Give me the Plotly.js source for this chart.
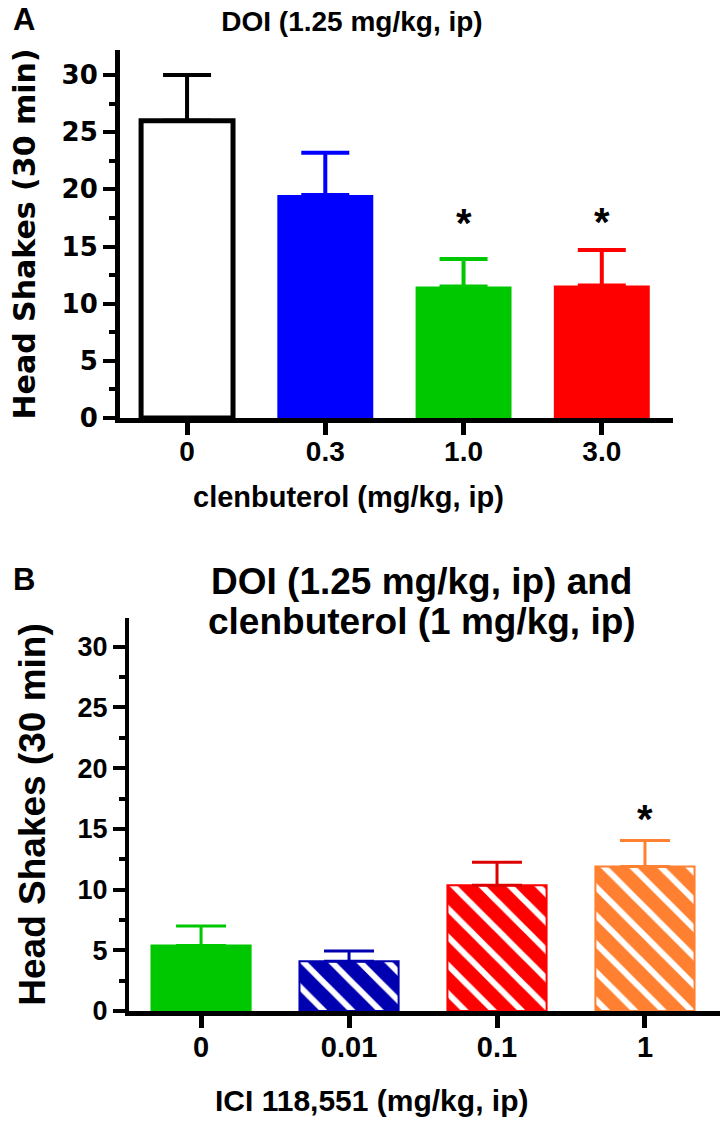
<!DOCTYPE html>
<html><head><meta charset="utf-8">
<script src="https://cdn.plot.ly/plotly-3.0.1.min.js"></script>
<style>html,body{margin:0;padding:0;background:#fff}</style>
</head><body><div id="chart" style="width:722px;height:1134px"></div>
<script>
// Panel A data
const catsA = ['0', '0.3', '1.0', '3.0'];
const meansA = [26.0, 19.5, 11.5, 11.6];
const semA = [4.0, 3.7, 2.4, 3.1];
const sigA = ['', '', '*', '*'];
const sigYA = [null, null, 17.05, 17.15];
const fillA = ['#FFFFFF', '#0000FF', '#00C800', '#FF0000'];
const edgeA = ['#000000', '#0000FF', '#00C800', '#FF0000'];

// Panel B data
const catsB = ['0', '0.01', '0.1', '1'];
const meansB = [5.4, 4.1, 10.35, 11.9];
const semB = [1.6, 0.85, 1.9, 2.15];
const sigB = ['', '', '', '*'];
const sigYB = [null, null, null, 15.85];
const fillB = ['#00C800', '#0000B0', '#FF0000', '#FF8030'];
const errB = ['#00C800', '#0000B0', '#DD0000', '#FF8030'];
const hatchB = ['', '\\', '\\', '\\'];

// Text
const titleA = 'DOI (1.25 mg/kg, ip)';
const titleB = ['DOI (1.25 mg/kg, ip) and', 'clenbuterol (1 mg/kg, ip)'];
const xTitleA = 'clenbuterol (mg/kg, ip)';
const xTitleB = 'ICI 118,551 (mg/kg, ip)';
const yTitle = 'Head Shakes (30 min)';

const W = 722, H = 1134;
const px = v => v / W, py = v => 1 - v / H;
const LIB = 'Liberation Sans, Arial, sans-serif';
const DJV = 'DejaVu Sans, sans-serif';
const bold = (fam, s) => ({family: fam, size: s, color: '#000', weight: 'bold'});

const traces = [];
catsA.forEach((c, i) => {
  const white = fillA[i] === '#FFFFFF';
  traces.push({
    type: 'bar', x: [c], y: [meansA[i]], xaxis: 'x', yaxis: 'y',
    width: [white ? 0.665 : 0.694],
    marker: {color: fillA[i], line: {color: edgeA[i], width: white ? 5 : 0}},
    error_y: {type: 'data', symmetric: false, array: [semA[i]], arrayminus: [0],
              color: edgeA[i], thickness: 4, width: 24},
    showlegend: false, hoverinfo: 'skip'
  });
});
catsB.forEach((c, i) => {
  const m = {color: fillB[i], line: {color: fillB[i], width: 2}};
  if (hatchB[i]) m.pattern = {shape: hatchB[i], fillmode: 'overlay', fgcolor: '#FFFFFF', fgopacity: 1,
                              size: 20, solidity: 0.3};
  traces.push({
    type: 'bar', x: [c], y: [meansB[i]], xaxis: 'x2', yaxis: 'y2',
    width: [0.67],
    marker: m,
    error_y: {type: 'data', symmetric: false, array: [semB[i]], arrayminus: [0],
              color: errB[i], thickness: 3, width: 25},
    showlegend: false, hoverinfo: 'skip'
  });
});

const ann = [];
catsA.forEach((c, i) => {
  if (sigA[i]) ann.push({xref: 'x', yref: 'y', x: i, y: sigYA[i], text: sigA[i],
    xanchor: 'center', yanchor: 'middle', showarrow: false, font: bold(LIB, 40)});
});
catsB.forEach((c, i) => {
  if (sigB[i]) ann.push({xref: 'x2', yref: 'y2', x: i, y: sigYB[i], text: sigB[i],
    xanchor: 'center', yanchor: 'middle', showarrow: false, font: bold(LIB, 40)});
});
ann.push({xref: 'paper', yref: 'paper', x: px(24), y: py(19), xanchor: 'center', yanchor: 'middle',
  text: 'A', showarrow: false, font: bold(LIB, 31)});
ann.push({xref: 'paper', yref: 'paper', x: px(24), y: py(579), xanchor: 'center', yanchor: 'middle',
  text: 'B', showarrow: false, font: bold(LIB, 31)});
ann.push({xref: 'paper', yref: 'paper', x: px(421), y: py(581), xanchor: 'center', yanchor: 'middle',
  text: titleB[0], showarrow: false, font: bold(LIB, 37)});
ann.push({xref: 'paper', yref: 'paper', x: px(422), y: py(621), xanchor: 'center', yanchor: 'middle',
  text: titleB[1], showarrow: false, font: bold(LIB, 37)});
// x-axis titles (placed as in the figure, left of the axis centre)
ann.push({xref: 'paper', yref: 'paper', x: px(348), y: py(497), xanchor: 'center', yanchor: 'middle',
  text: xTitleA, showarrow: false, font: bold(LIB, 29)});
ann.push({xref: 'paper', yref: 'paper', x: px(371), y: py(1100), xanchor: 'center', yanchor: 'middle',
  text: xTitleB, showarrow: false, font: bold(LIB, 30)});

const minorTicks = {tickvals: [2.5, 7.5, 12.5, 17.5, 22.5, 27.5], ticks: 'outside', ticklen: 6, tickwidth: 4,
                    tickcolor: '#000', showgrid: false};

const layout = {
  width: W, height: H,
  margin: {l: 0, r: 0, t: 0, b: 0},
  paper_bgcolor: '#fff', plot_bgcolor: '#fff',
  barmode: 'overlay',
  title: {text: titleA, x: px(352), xanchor: 'center', y: py(21), yanchor: 'middle',
          font: bold(LIB, 28)},
  xaxis: {
    domain: [px(120), px(673)], type: 'category', range: [-0.485, 3.515],
    showline: true, linecolor: '#000', linewidth: 5, ticks: 'outside', ticklen: 12, tickwidth: 5, tickcolor: '#000',
    showgrid: false, zeroline: false, tickfont: bold(LIB, 28), ticklabelstandoff: -8,
    anchor: 'y', fixedrange: true
  },
  yaxis: {
    domain: [py(418), py(50)], range: [0, 32.19], tickvals: [0, 5, 10, 15, 20, 25, 30],
    showline: true, linecolor: '#000', linewidth: 5, ticks: 'outside', ticklen: 12, tickwidth: 4, tickcolor: '#000',
    minor: minorTicks,
    showgrid: false, zeroline: false, tickfont: bold(DJV, 26),
    title: {text: yTitle, standoff: 19, font: bold(DJV, 30)},
    anchor: 'x', fixedrange: true
  },
  xaxis2: {
    domain: [px(129), px(720)], type: 'category', range: [-0.487, 3.507],
    showline: true, linecolor: '#000', linewidth: 5, ticks: 'outside', ticklen: 12, tickwidth: 5, tickcolor: '#000',
    showgrid: false, zeroline: false, tickfont: bold(LIB, 29), ticklabelstandoff: -6,
    anchor: 'y2', fixedrange: true
  },
  yaxis2: {
    domain: [py(1011), py(618)], range: [0, 32.37], tickvals: [0, 5, 10, 15, 20, 25, 30],
    showline: true, linecolor: '#000', linewidth: 4, ticks: 'outside', ticklen: 12, tickwidth: 4, tickcolor: '#000',
    minor: minorTicks,
    showgrid: false, zeroline: false, tickfont: bold(LIB, 27),
    title: {text: yTitle, standoff: 22, font: bold(LIB, 37)},
    anchor: 'x2', fixedrange: true
  },
  annotations: ann
};

Plotly.newPlot('chart', traces, layout, {staticPlot: true, displayModeBar: false});
</script>
</body></html>
